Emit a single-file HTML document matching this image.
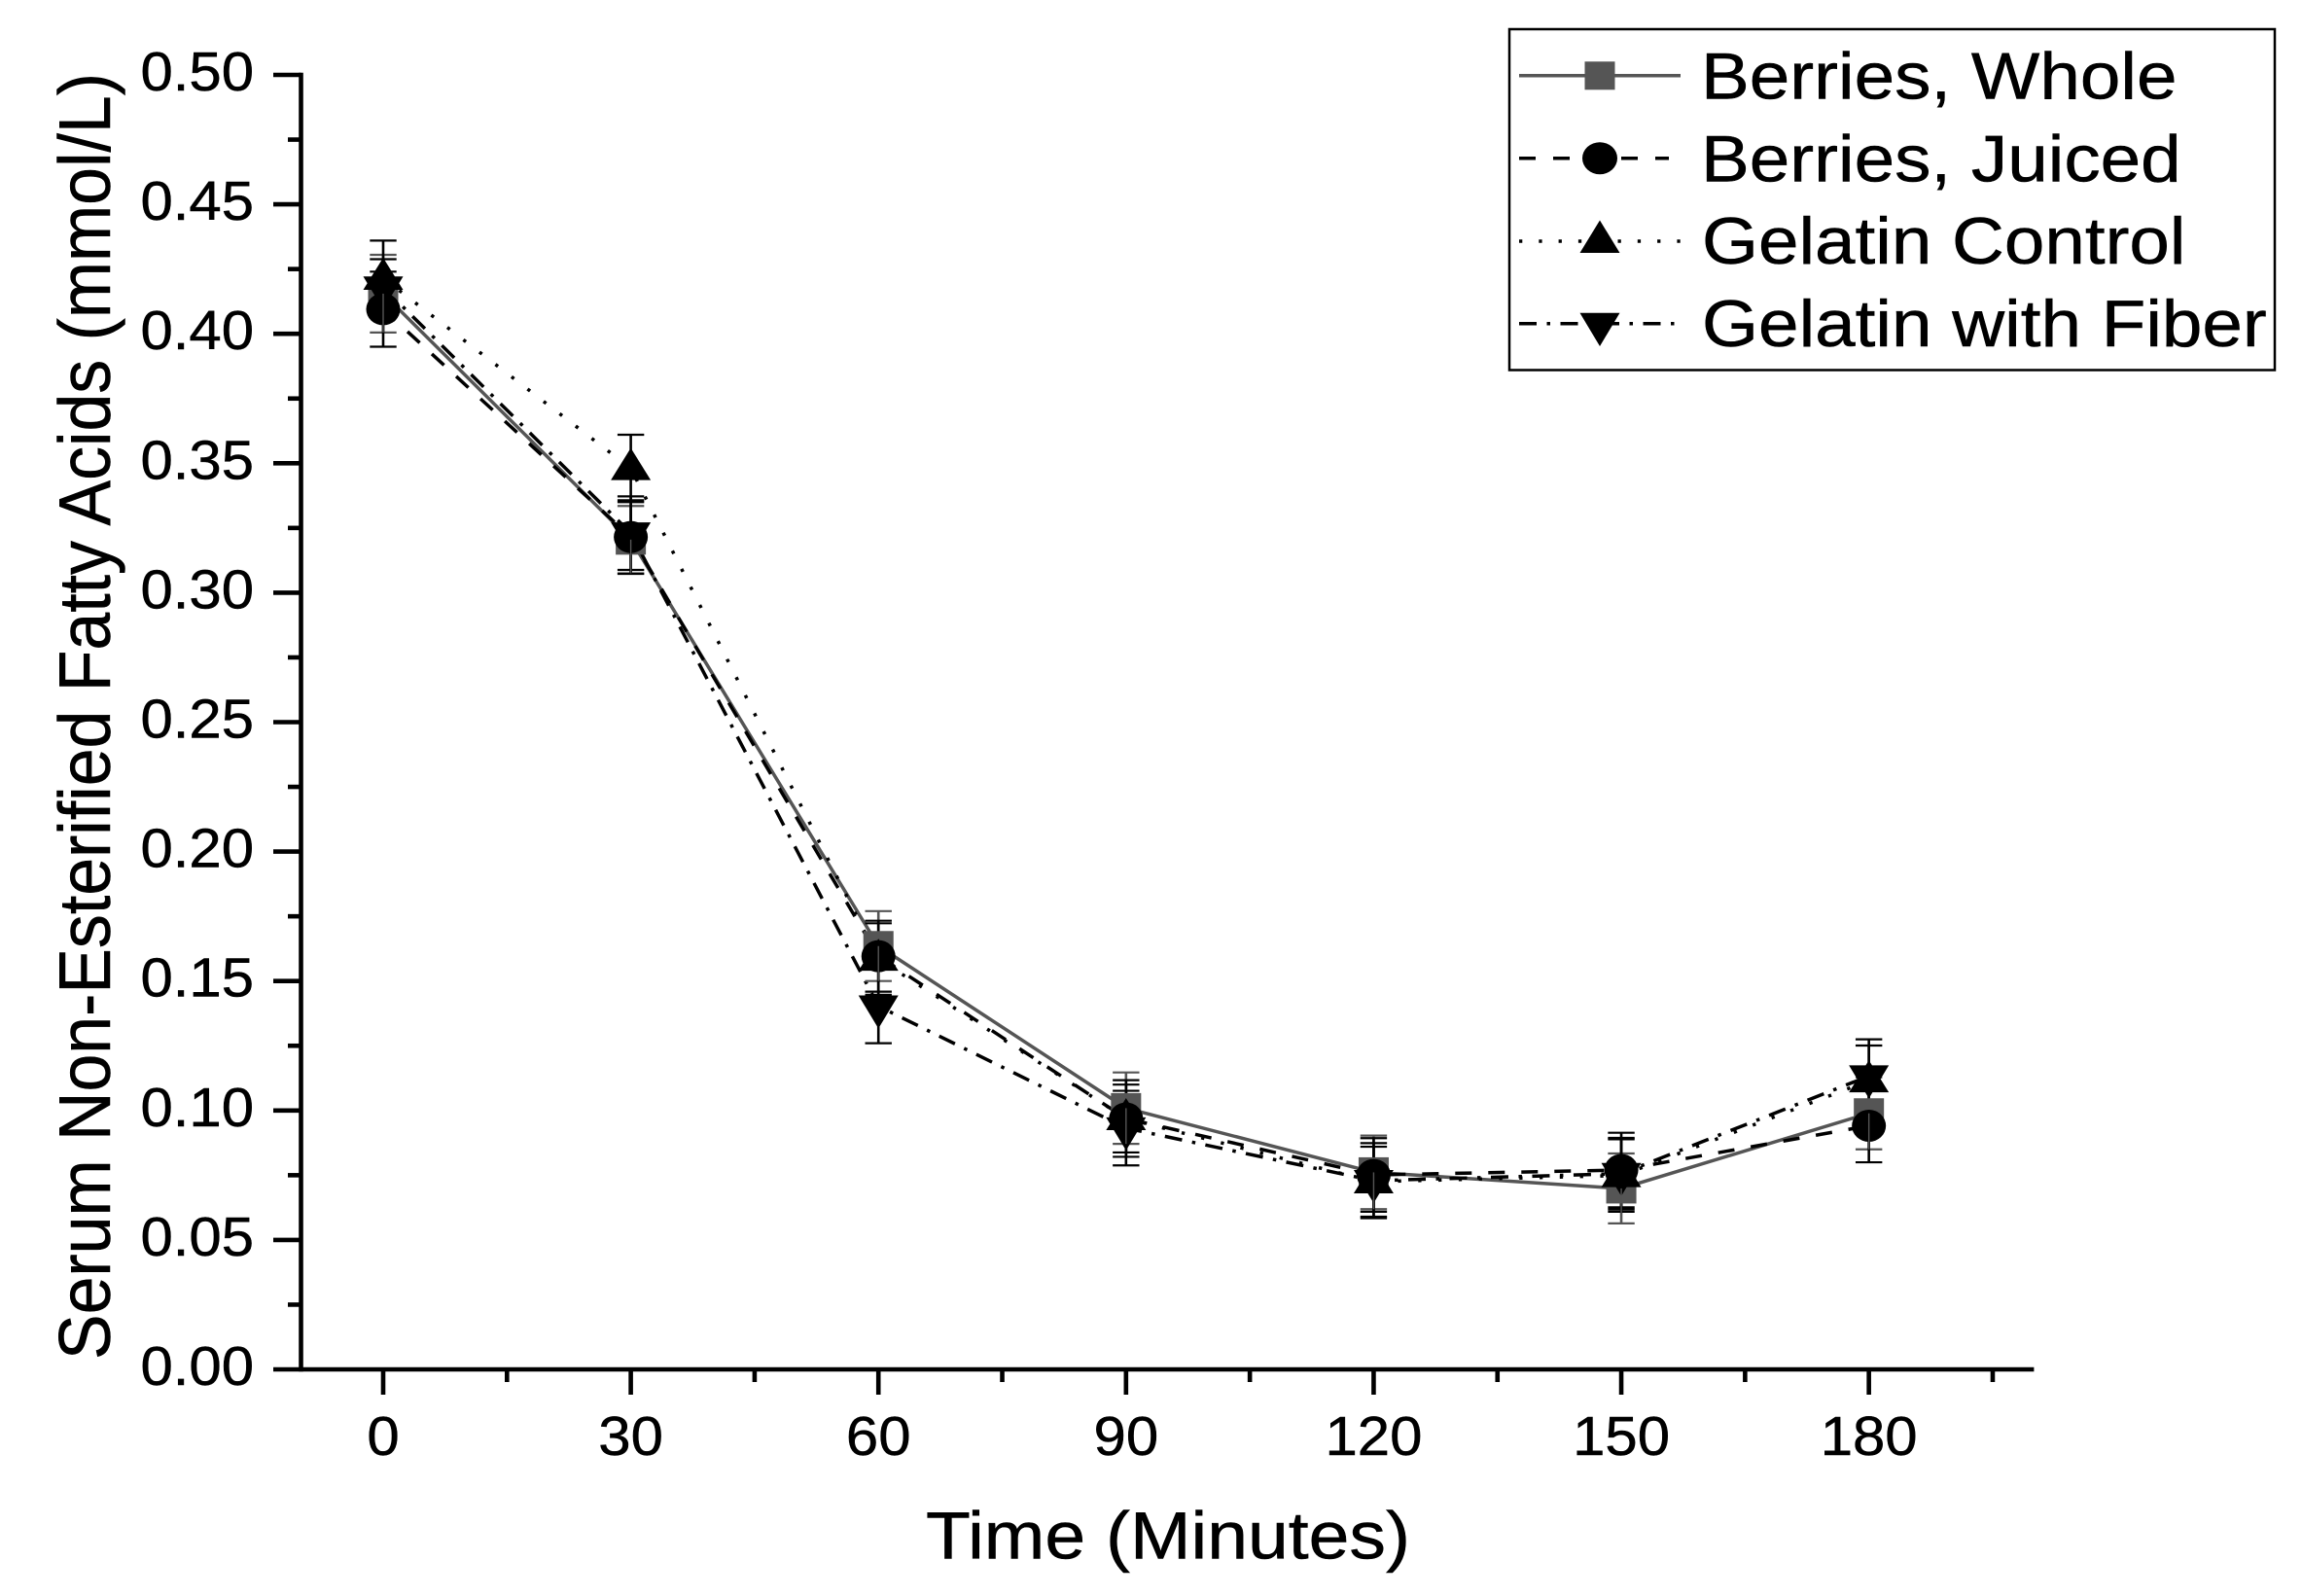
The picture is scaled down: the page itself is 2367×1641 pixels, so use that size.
<!DOCTYPE html>
<html lang="en">
<head>
<meta charset="utf-8">
<title>Serum Non-Esterified Fatty Acids over Time</title>
<style>
html,body{margin:0;padding:0;background:#fff;}
svg{display:block;}
text{font-family:"Liberation Sans",Arial,sans-serif;fill:#000;stroke:#000;stroke-width:0.5;}
</style>
</head>
<body>
<svg id="chart" xmlns="http://www.w3.org/2000/svg" width="2367" height="1641" viewBox="0 0 2367 1641">
  <rect x="0" y="0" width="2367" height="1641" fill="#fff"/>
  <g id="plot"></g>
  <g id="axes"></g>
  <text transform="translate(113,1398) rotate(-90)" font-size="75" textLength="1323" lengthAdjust="spacingAndGlyphs">Serum Non-Esterified Fatty Acids (mmol/L)</text>
  <text x="952" y="1602.5" font-size="69" textLength="498" lengthAdjust="spacingAndGlyphs">Time (Minutes)</text>
  <g id="legend">
    <rect x="1552" y="30" width="787" height="350.5" fill="#fff" stroke="#000" stroke-width="2.5"/>
    <g>
      <line x1="1562" y1="77.7" x2="1728" y2="77.7" stroke="#555" stroke-width="3.5"/>
      <rect x="1629.5" y="63.3" width="31" height="29" fill="#555"/>
      <text transform="translate(1749,101.5) scale(1.098,1)" font-size="68">Berries, Whole</text>
    </g>
    <g>
      <line x1="1562" y1="162.7" x2="1716" y2="162.7" stroke="#000" stroke-width="3.5" stroke-dasharray="17 18"/>
      <ellipse cx="1645" cy="162.7" rx="18" ry="16.5" fill="#000"/>
      <text transform="translate(1749,186.5) scale(1.098,1)" font-size="68">Berries, Juiced</text>
    </g>
    <g>
      <line x1="1562" y1="248" x2="1728" y2="248" stroke="#000" stroke-width="3.5" stroke-dasharray="3.3 17"/>
      <polygon points="1645,226.5 1665.5,260 1624.5,260" fill="#000"/>
      <text transform="translate(1750,271) scale(1.097,1)" font-size="68">Gelatin Control</text>
    </g>
    <g>
      <line x1="1562" y1="332.7" x2="1728" y2="332.7" stroke="#000" stroke-width="3.5" stroke-dasharray="18 10.5 3.5 10.5"/>
      <polygon points="1624.5,321.7 1665.5,321.7 1645,356" fill="#000"/>
      <text transform="translate(1750,356) scale(1.098,1)" font-size="68">Gelatin with Fiber</text>
    </g>
  </g>
</svg>
<script>
const timePoints = [0, 30, 60, 90, 120, 150, 180];
const xMinorTicks = [15, 45, 75, 105, 135, 165, 195];
const yMajorTicks = [0, 0.05, 0.10, 0.15, 0.20, 0.25, 0.30, 0.35, 0.40, 0.45, 0.50];
const yMinorTicks = [0.025, 0.075, 0.125, 0.175, 0.225, 0.275, 0.325, 0.375, 0.425, 0.475];
const yTickLabels = ["0.00", "0.05", "0.10", "0.15", "0.20", "0.25", "0.30", "0.35", "0.40", "0.45", "0.50"];
const xTickLabels = ["0", "30", "60", "90", "120", "150", "180"];

const wholeValues = [0.4155, 0.3205, 0.1635, 0.1009, 0.0761, 0.0699, 0.0989];
const wholeErrors = [0.0150, 0.0130, 0.0135, 0.0138, 0.0142, 0.0135, 0.0139];
const juicedValues = [0.4095, 0.3215, 0.1596, 0.0969, 0.0751, 0.0770, 0.0941];
const juicedErrors = [0.0145, 0.0142, 0.0137, 0.0148, 0.0142, 0.0144, 0.0141];
const controlValues = [0.4215, 0.3480, 0.1585, 0.0969, 0.0725, 0.0749, 0.1115];
const controlErrors = [0.0145, 0.0130, 0.0138, 0.0131, 0.0135, 0.0140, 0.0136];
const fiberValues = [0.4180, 0.3230, 0.1403, 0.0932, 0.0729, 0.0756, 0.1133];
const fiberErrors = [0.0108, 0.0142, 0.0143, 0.0144, 0.0145, 0.0138, 0.0142];

const NS = 'http://www.w3.org/2000/svg';
const plot = document.getElementById('plot');
const axes = document.getElementById('axes');

function xScale(t) { return 394 + t * 8.487; }
function yScale(v) { return 1408 - v * 2662; }

function mk(tag, parent, props) {
  const node = document.createElementNS(NS, tag);
  for (const key in props) node.setAttribute(key, props[key]);
  parent.appendChild(node);
  return node;
}

function drawLine(name, values, color, dash) {
  const pts = timePoints.map((t, i) => xScale(t) + ',' + yScale(values[i])).join(' ');
  const el = mk('polyline', plot, { points: pts, fill: 'none', stroke: color, 'stroke-width': 3.5, 'stroke-dasharray': dash });
  
  
}

function drawErrors(name, values, errors, color) {
  timePoints.forEach((t, i) => {
    const x = xScale(t);
    const hi = yScale(values[i] + errors[i]);
    const lo = yScale(values[i] - errors[i]);
    const stem = mk('line', plot, { x1: x, x2: x, y1: hi, y2: lo, stroke: color, 'stroke-width': 2.6 });
    
    
    const capTop = mk('line', plot, { x1: x - 13.7, x2: x + 13.7, y1: hi, y2: hi, stroke: color, 'stroke-width': 2.2 });
    
    
    const capBottom = mk('line', plot, { x1: x - 13.7, x2: x + 13.7, y1: lo, y2: lo, stroke: color, 'stroke-width': 2.2 });
    
    
  });
}

function drawSquares(values) {
  timePoints.forEach((t, i) => {
    const el = mk('rect', plot, { x: xScale(t) - 15.5, y: yScale(values[i]) - 15.5, width: 31, height: 31, fill: '#555' });
    
    
  });
}

function drawCircles(values) {
  timePoints.forEach((t, i) => {
    const el = mk('ellipse', plot, { cx: xScale(t), cy: yScale(values[i]), rx: 17.5, ry: 16.5, fill: '#000' });
    
    
  });
}

function drawUpTriangles(values) {
  timePoints.forEach((t, i) => {
    const x = xScale(t), y = yScale(values[i]);
    const el = mk('polygon', plot, { points: x + ',' + (y - 21) + ' ' + (x + 20.5) + ',' + (y + 12) + ' ' + (x - 20.5) + ',' + (y + 12), fill: '#000' });
    
    
  });
}

function drawDownTriangles(values) {
  timePoints.forEach((t, i) => {
    const x = xScale(t), y = yScale(values[i]);
    const el = mk('polygon', plot, { points: (x - 20.5) + ',' + (y - 11) + ' ' + (x + 20.5) + ',' + (y - 11) + ' ' + x + ',' + (y + 23), fill: '#000' });
    
    
  });
}

drawLine('berries-whole', wholeValues, '#555', 'none');
drawLine('berries-juiced', juicedValues, '#000', '17 17');
drawLine('gelatin-control', controlValues, '#000', '3.3 17.5');
drawLine('gelatin-with-fiber', fiberValues, '#000', '18 10.5 3.5 10.5');

drawErrors('berries-whole', wholeValues, wholeErrors, '#555');
drawErrors('gelatin-with-fiber', fiberValues, fiberErrors, '#000');
drawErrors('gelatin-control', controlValues, controlErrors, '#000');
drawErrors('berries-juiced', juicedValues, juicedErrors, '#000');

drawSquares(wholeValues);
drawUpTriangles(controlValues);
drawDownTriangles(fiberValues);
drawCircles(juicedValues);

timePoints.forEach((t, i) => {
  const x = xScale(t);
  const el = mk('line', plot, { x1: x, x2: x, y1: yScale(wholeValues[i]), y2: yScale(wholeValues[i] - wholeErrors[i]), stroke: '#555', 'stroke-width': 1.4 });
  
  
});

const yAxisLine = mk('line', axes, { x1: 309.5, x2: 309.5, y1: yScale(0.5) - 2.3, y2: yScale(0) + 2.3, stroke: '#000', 'stroke-width': 4.6 });



const xAxisLine = mk('line', axes, { x1: 309.5, x2: xScale(200), y1: yScale(0), y2: yScale(0), stroke: '#000', 'stroke-width': 4.6 });



yMajorTicks.forEach((v, i) => {
  const y = yScale(v);
  const tick = mk('line', axes, { x1: 281, x2: 309.5, y1: y, y2: y, stroke: '#000', 'stroke-width': 4.6 });
  
  
  const label = mk('text', axes, { transform: 'translate(261,' + (y + 16) + ') scale(1.06,1)', 'font-size': 56.5, 'text-anchor': 'end' });
  label.textContent = yTickLabels[i];
  
  
});

yMinorTicks.forEach((v) => {
  const y = yScale(v);
  const tick = mk('line', axes, { x1: 296, x2: 309.5, y1: y, y2: y, stroke: '#000', 'stroke-width': 4.6 });
  
  
});

timePoints.forEach((t, i) => {
  const x = xScale(t);
  const tick = mk('line', axes, { x1: x, x2: x, y1: 1408, y2: 1434, stroke: '#000', 'stroke-width': 4.6 });
  
  
  const label = mk('text', axes, { transform: 'translate(' + x + ',1496) scale(1.06,1)', 'font-size': 56.5, 'text-anchor': 'middle' });
  label.textContent = xTickLabels[i];
  
  
});

xMinorTicks.forEach((t) => {
  const x = xScale(t);
  const tick = mk('line', axes, { x1: x, x2: x, y1: 1408, y2: 1421, stroke: '#000', 'stroke-width': 4.6 });
  
  
});
</script>
</body>
</html>
